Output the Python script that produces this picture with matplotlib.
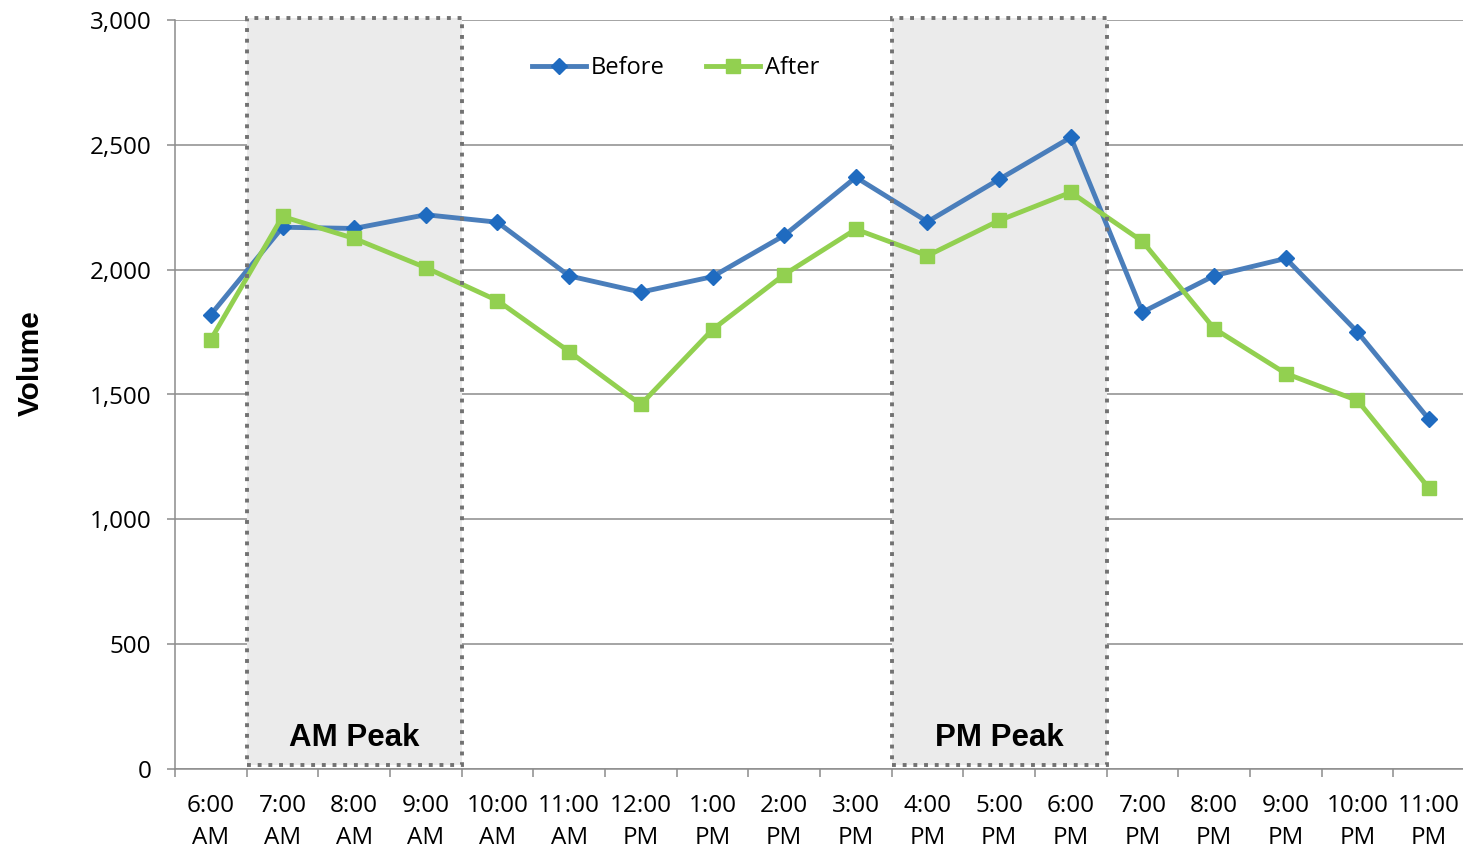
import matplotlib.pyplot as plt
from matplotlib.patches import Rectangle

# Hourly volumes
hours = ["6:00\nAM", "7:00\nAM", "8:00\nAM", "9:00\nAM", "10:00\nAM", "11:00\nAM",
         "12:00\nPM", "1:00\nPM", "2:00\nPM", "3:00\nPM", "4:00\nPM", "5:00\nPM",
         "6:00\nPM", "7:00\nPM", "8:00\nPM", "9:00\nPM", "10:00\nPM", "11:00\nPM"]
before = [1820, 2170, 2165, 2220, 2190, 1975, 1910, 1972, 2137, 2370,
          2192, 2362, 2530, 1830, 1976, 2045, 1750, 1400]
after = [1720, 2213, 2125, 2008, 1876, 1672, 1460, 1760, 1980, 2162,
         2056, 2197, 2310, 2113, 1764, 1584, 1476, 1124]

# Peak periods: (first index, last index, label)
peaks = [(1, 3, "AM Peak"), (10, 12, "PM Peak")]

fig = plt.figure(figsize=(14.63, 8.47), dpi=100)
ax = fig.add_axes([175 / 1463, 78 / 847, 1290 / 1463, 749 / 847])

x = list(range(len(hours)))

for start, end, label in peaks:
    ax.add_patch(Rectangle((start - 0.5, 15), end - start + 1, 2993,
                           facecolor="#EBEBEB", edgecolor="none", zorder=2, clip_on=False))
    ax.add_patch(Rectangle((start - 0.5, 15), end - start + 1, 2993,
                           facecolor="none", edgecolor="#727272", linewidth=2.8,
                           linestyle=(0, (1, 1.75)), zorder=5, clip_on=False))
    ax.text((start + end) / 2, 126, label, ha="center", va="center",
            fontsize=22.5, fontweight="bold", family="Liberation Sans", zorder=6)

ax.plot(x, before, color="#4A7EBB", linewidth=3.5, marker="D", markersize=8,
        markerfacecolor="#1F6BC0", markeredgecolor="#1F6BC0", label="Before", zorder=4)
ax.plot(x, after, color="#92D050", linewidth=3.5, marker="s", markersize=10,
        markerfacecolor="#92D050", markeredgecolor="#92D050", label="After", zorder=4)

ax.set_xlim(-0.5, len(hours) - 0.5)
ax.set_ylim(0, 3000)
ax.set_yticks(range(0, 3001, 500))
ax.set_yticklabels([f"{v:,}" for v in range(0, 3001, 500)])
ax.set_xticks(x)
ax.set_xticklabels(hours, linespacing=1.45)
ax.set_xticks([i - 0.5 for i in range(len(hours) + 1)], minor=True)

ax.grid(axis="y", color="#8C8C8C", linewidth=1.1, zorder=1)
ax.set_axisbelow(True)
for side in ["top", "right"]:
    ax.spines[side].set_visible(False)
for side in ["left", "bottom"]:
    ax.spines[side].set_color("#8C8C8C")
    ax.spines[side].set_linewidth(1.1)

ax.tick_params(axis="x", which="major", length=0, pad=18, labelsize=17.5)
ax.tick_params(axis="x", which="minor", length=6, width=1.1, color="#8C8C8C")
ax.tick_params(axis="y", length=6, width=1.1, color="#8C8C8C", labelsize=17.5, pad=11)
for lbl in ax.get_xticklabels() + ax.get_yticklabels():
    lbl.set_family("Open Sans")

ax.set_ylabel("Volume", fontsize=21.5, fontweight="bold", family="Liberation Sans")
ax.yaxis.set_label_coords(-0.101, 0.542)

ax.legend(loc="upper center", bbox_to_anchor=(0.388, 0.98), ncol=2, frameon=False,
          handlelength=2.3, columnspacing=1.75, handletextpad=0.2,
          prop={"family": "Open Sans", "size": 17})

plt.savefig("out.png", dpi=100)
plt.close()
